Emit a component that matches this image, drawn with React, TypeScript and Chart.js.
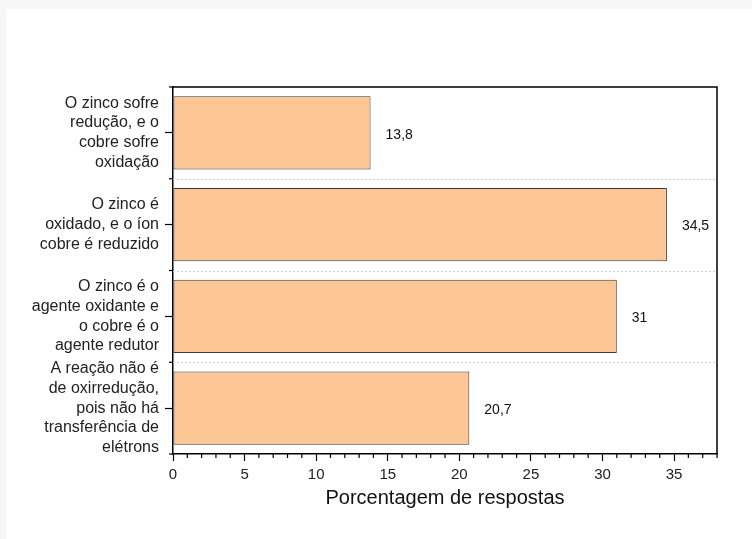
import React, { useEffect, useRef } from "react";
import { Chart, registerables } from "chart.js";

Chart.register(...registerables);

// Answer options (multi-line category labels) and share of answers (%)
const categories: string[][] = [
  ["O zinco sofre", "redução, e o", "cobre sofre", "oxidação"],
  ["O zinco é", "oxidado, e o íon", "cobre é reduzido"],
  ["O zinco é o", "agente oxidante e", "o cobre é o", "agente redutor"],
  ["A reação não é", "de oxirredução,", "pois não há", "transferência de", "elétrons"],
];
const percentages: number[] = [13.8, 34.5, 31, 20.7];
const xMajorTicks: number[] = [0, 5, 10, 15, 20, 25, 30, 35];
const xTitle = "Porcentagem de respostas";

const FONT = "'Liberation Sans', Arial, Helvetica, sans-serif";
const X_MAX = 38;

const fmt = (v: number) => String(v).replace(".", ",");

// Frame, dashed separators, minor ticks and value labels
const decorations = {
  id: "decorations",
  beforeDatasetsDraw(chart: any) {
    const { ctx, chartArea } = chart;
    const y = chart.scales.y;
    ctx.save();
    ctx.strokeStyle = "#cfcfcf";
    ctx.lineWidth = 1;
    ctx.setLineDash([2, 2]);
    for (let i = 0; i < categories.length - 1; i++) {
      const py = Math.round((y.getPixelForValue(i) + y.getPixelForValue(i + 1)) / 2) + 0.5;
      ctx.beginPath();
      ctx.moveTo(chartArea.left, py);
      ctx.lineTo(chartArea.right, py);
      ctx.stroke();
    }
    ctx.restore();
  },
  afterDraw(chart: any) {
    const { ctx, chartArea } = chart;
    const x = chart.scales.x;
    const y = chart.scales.y;
    ctx.save();
    ctx.strokeStyle = "#000";
    ctx.lineWidth = 1.5;
    // top and right frame
    ctx.beginPath();
    ctx.moveTo(chartArea.left, chartArea.top);
    ctx.lineTo(chartArea.right, chartArea.top);
    ctx.lineTo(chartArea.right, chartArea.bottom);
    ctx.stroke();
    // minor ticks on the value axis
    ctx.lineWidth = 1.2;
    for (let v = 1; v <= X_MAX; v++) {
      if (v % 5 === 0) continue;
      const px = x.getPixelForValue(v);
      ctx.beginPath();
      ctx.moveTo(px, chartArea.bottom);
      ctx.lineTo(px, chartArea.bottom + 4);
      ctx.stroke();
    }
    // minor ticks at category boundaries
    for (let i = -1; i < categories.length; i++) {
      const py = (y.getPixelForValue(i) + y.getPixelForValue(i + 1)) / 2;
      const yy = i === -1 ? chartArea.top : i === categories.length - 1 ? chartArea.bottom : py;
      ctx.beginPath();
      ctx.moveTo(chartArea.left - 4, yy);
      ctx.lineTo(chartArea.left, yy);
      ctx.stroke();
    }
    // value labels
    ctx.fillStyle = "#111";
    ctx.font = `14px ${FONT}`;
    ctx.textAlign = "left";
    ctx.textBaseline = "middle";
    const meta = chart.getDatasetMeta(0);
    meta.data.forEach((bar: any, i: number) => {
      ctx.fillText(fmt(percentages[i]), bar.x + 15, bar.y + 2);
    });
    ctx.restore();
  },
};

export default function App() {
  const canvasRef = useRef<HTMLCanvasElement | null>(null);

  useEffect(() => {
    const canvas = canvasRef.current;
    if (!canvas) return;
    const chart = new Chart(canvas, {
      type: "bar",
      data: {
        labels: categories as any,
        datasets: [
          {
            data: percentages,
            backgroundColor: "#FCC794",
            borderColor: "#3a3a3a",
            borderWidth: 1,
            borderSkipped: false,
            barPercentage: 0.8,
            categoryPercentage: 1,
          },
        ],
      },
      options: {
        indexAxis: "y",
        responsive: false,
        animation: false,
        devicePixelRatio: 1,
        layout: { padding: { left: 10, top: 87, right: 35, bottom: 25 } },
        plugins: {
          legend: { display: false },
          tooltip: { enabled: false },
        },
        scales: {
          x: {
            type: "linear",
            min: 0,
            max: X_MAX,
            afterBuildTicks: (scale: any) => {
              scale.ticks = xMajorTicks.map((v) => ({ value: v }));
            },
            afterFit: (scale: any) => {
              scale.height = 60;
            },
            border: { display: true, color: "#000", width: 1.5 },
            grid: {
              drawOnChartArea: false,
              drawTicks: true,
              tickLength: 7,
              tickColor: "#000",
              tickWidth: 1.2,
            },
            ticks: {
              padding: 5,
              color: "#222",
              autoSkip: false,
              font: { family: FONT, size: 15 },
              maxRotation: 0,
            },
            title: {
              display: true,
              text: xTitle,
              color: "#111",
              font: { family: FONT, size: 20 },
            },
          },
          y: {
            type: "category",
            offset: true,
            afterFit: (scale: any) => {
              scale.width = 163;
            },
            border: { display: true, color: "#000", width: 1.5 },
            grid: {
              offset: false,
              drawOnChartArea: false,
              drawTicks: true,
              tickLength: 8,
              tickColor: "#000",
              tickWidth: 1.2,
            },
            ticks: {
              padding: 6,
              color: "#222",
              autoSkip: false,
              font: { family: FONT, size: 16, lineHeight: 1.23 },
            },
          },
        },
      },
      plugins: [decorations],
    });
    return () => chart.destroy();
  }, []);

  return (
    <div
      style={{
        position: "fixed",
        left: 0,
        top: 0,
        width: 752,
        height: 539,
        background: "#f6f6f6",
        overflow: "hidden",
      }}
    >
      <div
        style={{
          position: "absolute",
          left: 6,
          top: 9,
          right: 0,
          bottom: 0,
          background: "#ffffff",
        }}
      />
      <canvas
        ref={canvasRef}
        width={752}
        height={539}
        style={{ position: "absolute", left: 0, top: 0, width: 752, height: 539 }}
      />
    </div>
  );
}
